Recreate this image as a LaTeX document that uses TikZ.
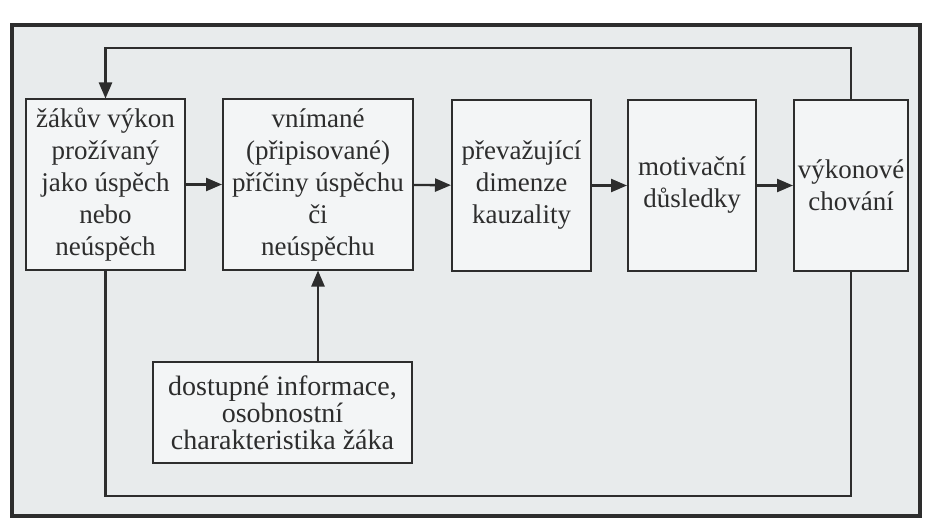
\documentclass[tikz,border=0pt]{standalone}
\usepackage{fontspec}
\setmainfont{Liberation Serif}
\usetikzlibrary{arrows.meta}

\definecolor{ink}{RGB}{45,45,45}
\definecolor{paper}{RGB}{232,235,236}
\definecolor{boxfill}{RGB}{243,245,246}

\tikzset{
  blok/.style={draw=ink, line width=1pt, fill=boxfill, text=ink, align=center,
    inner sep=0pt, font=\fontsize{13.5}{16}\selectfont},
  sip/.style={-{Triangle[length=8pt,width=6.5pt]}, draw=ink, line width=1.2pt},
  cara/.style={draw=ink, line width=1.2pt}
}

\begin{document}
\begin{tikzpicture}[x=0.5pt,y=-0.5pt]
   \useasboundingbox (0,0) rectangle (925,524);
   \fill[white] (0,0) rectangle (925,524);
   \draw[ink, line width=1.6pt, fill=paper] (12,25) rectangle (920,516);

   \node[blok, minimum width=79.5pt, minimum height=85pt] (a1) at (105.5,184.5)
      {žákův výkon\\prožívaný\\jako úspěch\\nebo\\neúspěch};
   \node[blok, minimum width=95pt, minimum height=85pt] (a2) at (318,184.5)
      {vnímané\\(připisované)\\příčiny úspěchu\\či\\neúspěchu};
   \node[blok, minimum width=69.5pt, minimum height=85pt] (a3) at (521.5,185.5)
      {převažující\\dimenze\\kauzality};
   \node[blok, minimum width=64pt, minimum height=85pt] (a4) at (692,185.5)
      {motivační\\důsledky};
   \node[blok, minimum width=57pt, minimum height=85pt] (a5) at (851,185.5)
      {výkonové\\chování};
   \node[blok, minimum width=129.5pt, minimum height=50.5pt,
         font=\fontsize{14}{13.5}\selectfont] (a6) at (282.5,412.5)
      {dostupné informace,\\osobnostní\\charakteristika žáka};

   \coordinate (nahore) at (0,48);
   \coordinate (dole) at (0,496);

   \path (a1) edge[sip] (a2);
   \path (a2) edge[sip] (a3);
   \path (a3) edge[sip] (a4);
   \path (a4) edge[sip] (a5);
   \path (a6.north -| a2.south) edge[sip] (a2.south);

   \draw[sip] (a5.north) |- (a1.north |- nahore) -- (a1.north);
   \draw[cara] (a1.south) |- (a5.south |- dole) -- (a5.south);
\end{tikzpicture}
\end{document}
